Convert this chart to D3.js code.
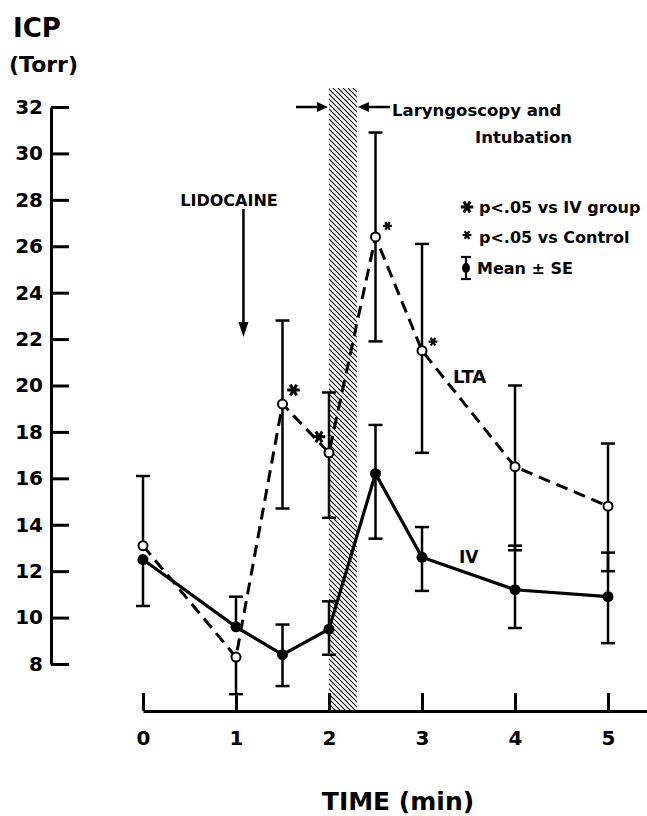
<!DOCTYPE html>
<html>
<head>
<meta charset="utf-8">
<script src="https://cdn.jsdelivr.net/npm/d3@7"></script>
<style>
  body { margin: 0; background: #fff; }
  svg { font-family: "DejaVu Sans", sans-serif; font-weight: bold; }
  .axis path, .axis line { stroke: #000; stroke-width: 3; }
  .axis text { font-size: 20px; font-weight: bold; fill: #000; font-family: "DejaVu Sans", sans-serif; }
</style>
</head>
<body>
<div id="chart"></div>
<script>
// ICP over time, lidocaine LTA vs IV groups
const times = [0, 1, 1.5, 2, 2.5, 3, 4, 5];
const lta   = [13.1, 8.3, 19.2, 17.1, 26.4, 21.5, 16.5, 14.8];
const ltaHi = [16.1, null, 22.8, 19.7, 30.9, 26.1, 20.0, 17.5];
const ltaLo = [null, 6.7, 14.7, 14.3, 21.9, 17.1, 12.9, 12.0];
const iv    = [12.5, 9.6, 8.4, 9.5, 16.2, 12.6, 11.2, 10.9];
const ivHi  = [null, 10.9, 9.7, 10.7, 18.3, 13.9, 13.1, 12.8];
const ivLo  = [10.5, null, 7.05, 8.4, 13.4, 11.15, 9.55, 8.9];
const yTicks = [8, 10, 12, 14, 16, 18, 20, 22, 24, 26, 28, 30, 32];
const xTicks = [0, 1, 2, 3, 4, 5];
// significance marks: index into times, kind ("iv" = vs IV group, "ctl" = vs Control)
const sigIdx  = [2, 3, 4, 5];
const sigKind = ["iv", "iv", "ctl", "ctl"];
const intubation = [2.0, 2.3];
const lidocaineAt = 1.08;

let width = 647, height = 816;

let svg = d3.select("#chart").append("svg")
  .attr("width", width)
  .attr("height", height);

let x = d3.scaleLinear().domain([0, 5.43]).range([143, 648]);
let y = d3.scaleLinear().domain([8, 32]).range([664, 107]);

// hatch pattern for the laryngoscopy band
let pat = svg.append("defs").append("pattern")
  .attr("id", "hatch")
  .attr("patternUnits", "userSpaceOnUse")
  .attr("width", 5).attr("height", 5);
pat.append("path")
  .attr("d", "M-1,-1 L6,6 M-1,4 L1,6 M4,-1 L6,1")
  .attr("stroke", "#000").attr("stroke-width", 1.05);

svg.append("rect")
  .attr("x", x(intubation[0]))
  .attr("y", 88)
  .attr("width", x(intubation[1]) - x(intubation[0]))
  .attr("height", 711 - 88)
  .attr("fill", "url(#hatch)");

// axes
let yAxis = d3.axisLeft(y).tickValues(yTicks).tickSizeInner(-18).tickSizeOuter(0).tickPadding(8);
svg.append("g").attr("class", "y axis")
  .attr("transform", "translate(51,0)")
  .call(yAxis);

let xAxis = d3.axisBottom(x).tickValues(xTicks).tickFormat(d3.format("d"))
  .tickSizeInner(-18).tickSizeOuter(0).tickPadding(20);
svg.append("g").attr("class", "x axis")
  .attr("transform", "translate(0,711)")
  .call(xAxis);

// error bars
function errBars(vals, hi, lo) {
  let g = svg.append("g").attr("stroke", "#000").attr("stroke-width", 2.5).attr("fill", "none");
  times.forEach((t, i) => {
    [hi[i], lo[i]].forEach(e => {
      if (e == null) return;
      g.append("line").attr("x1", x(t)).attr("x2", x(t)).attr("y1", y(vals[i])).attr("y2", y(e));
      g.append("line").attr("x1", x(t) - 7).attr("x2", x(t) + 7).attr("y1", y(e)).attr("y2", y(e));
    });
  });
}
errBars(lta, ltaHi, ltaLo);
errBars(iv, ivHi, ivLo);

let line = d3.line().x(d => x(d[0])).y(d => y(d[1]));

svg.append("path")
  .datum(times.map((t, i) => [t, iv[i]]))
  .attr("d", line)
  .attr("fill", "none").attr("stroke", "#000").attr("stroke-width", 3.2);

svg.append("path")
  .datum(times.map((t, i) => [t, lta[i]]))
  .attr("d", line)
  .attr("fill", "none").attr("stroke", "#000").attr("stroke-width", 3)
  .attr("stroke-dasharray", "12,7");

svg.selectAll(".ivpt").data(times).enter().append("circle")
  .attr("class", "ivpt")
  .attr("cx", d => x(d)).attr("cy", (d, i) => y(iv[i]))
  .attr("r", 5.5).attr("fill", "#000");

svg.selectAll(".ltapt").data(times).enter().append("circle")
  .attr("class", "ltapt")
  .attr("cx", d => x(d)).attr("cy", (d, i) => y(lta[i]))
  .attr("r", 4.5).attr("fill", "#fff").attr("stroke", "#000").attr("stroke-width", 2);

// significance stars
let bigStar = d3.symbol().type(d3.symbolAsterisk).size(110);
let smallStar = d3.symbol().type(d3.symbolAsterisk).size(55);
let starOff = [[11, -14], [-10, -16], [12, -11], [11, -9]];
sigIdx.forEach((idx, k) => {
  svg.append("path")
    .attr("d", sigKind[k] == "iv" ? bigStar() : smallStar())
    .attr("transform", `translate(${x(times[idx]) + starOff[k][0]},${y(lta[idx]) + starOff[k][1]}) rotate(90)`)
    .attr("stroke", "#000")
    .attr("stroke-width", sigKind[k] == "iv" ? 3 : 2.2)
    .attr("fill", "none");
});

// axis titles
svg.append("text").attr("x", 13).attr("y", 37).attr("font-size", 26).text("ICP");
svg.append("text").attr("x", 9).attr("y", 72).attr("font-size", 22).text("(Torr)");
svg.append("text").attr("x", 398).attr("y", 810).attr("text-anchor", "middle")
  .attr("font-size", 25).text("TIME (min)");

// lidocaine annotation
svg.append("text").attr("x", 229).attr("y", 206).attr("text-anchor", "middle")
  .attr("font-size", 16).text("LIDOCAINE");
svg.append("line").attr("x1", x(lidocaineAt)).attr("x2", x(lidocaineAt))
  .attr("y1", 209).attr("y2", 325).attr("stroke", "#000").attr("stroke-width", 2.5);
svg.append("path")
  .attr("d", `M${x(lidocaineAt) - 5},322 L${x(lidocaineAt) + 5},322 L${x(lidocaineAt)},337 Z`)
  .attr("fill", "#000");

// laryngoscopy arrows
let bandL = x(intubation[0]), bandR = x(intubation[1]);
svg.append("line").attr("x1", bandL - 33).attr("x2", bandL - 8).attr("y1", 107).attr("y2", 107)
  .attr("stroke", "#000").attr("stroke-width", 2.5);
svg.append("path").attr("d", `M${bandL - 12},102 L${bandL - 1},107 L${bandL - 12},112 Z`).attr("fill", "#000");
svg.append("line").attr("x1", bandR + 8).attr("x2", bandR + 33).attr("y1", 107).attr("y2", 107)
  .attr("stroke", "#000").attr("stroke-width", 2.5);
svg.append("path").attr("d", `M${bandR + 12},102 L${bandR + 1},107 L${bandR + 12},112 Z`).attr("fill", "#000");
svg.append("text").attr("x", 392).attr("y", 116).attr("font-size", 16.5).text("Laryngoscopy and");
svg.append("text").attr("x", 475).attr("y", 143).attr("font-size", 16.5).text("Intubation");

// series labels
svg.append("text").attr("x", 453).attr("y", 383).attr("font-size", 18).text("LTA");
svg.append("text").attr("x", 459).attr("y", 563).attr("font-size", 17).text("IV");

// legend
svg.append("path").attr("d", bigStar()).attr("transform", "translate(467,207) rotate(90)")
  .attr("stroke", "#000").attr("stroke-width", 3).attr("fill", "none");
svg.append("text").attr("x", 479).attr("y", 213).attr("font-size", 16).text("p<.05 vs IV group");
svg.append("path").attr("d", smallStar()).attr("transform", "translate(467,235) rotate(90)")
  .attr("stroke", "#000").attr("stroke-width", 2.2).attr("fill", "none");
svg.append("text").attr("x", 479).attr("y", 243).attr("font-size", 16).text("p<.05 vs Control");
let lg = svg.append("g").attr("stroke", "#000").attr("stroke-width", 2.2);
lg.append("line").attr("x1", 466).attr("x2", 466).attr("y1", 257).attr("y2", 279);
lg.append("line").attr("x1", 461).attr("x2", 471).attr("y1", 257).attr("y2", 257);
lg.append("line").attr("x1", 461).attr("x2", 471).attr("y1", 279).attr("y2", 279);
svg.append("ellipse").attr("cx", 466).attr("cy", 268).attr("rx", 4).attr("ry", 5).attr("fill", "#000");
svg.append("text").attr("x", 477).attr("y", 274).attr("font-size", 16).text("Mean \u00b1 SE");
</script>
</body>
</html>
